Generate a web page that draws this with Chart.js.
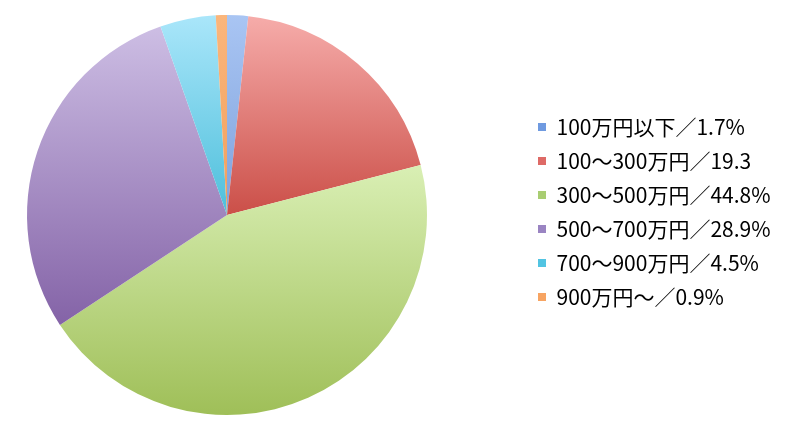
<!DOCTYPE html>
<html>
<head>
<meta charset="utf-8">
<script src="https://cdn.jsdelivr.net/npm/chart.js@4"></script>
<style>
  html, body { margin: 0; padding: 0; background: #fff; }
  #wrap { width: 800px; height: 431px; }
</style>
</head>
<body>
<div id="wrap"><canvas id="incomeChart" width="800" height="431"></canvas></div>
<script>
// 年収分布
const labels = ['100万円以下／1.7%', '100〜300万円／19.3', '300〜500万円／44.8%', '500〜700万円／28.9%', '700〜900万円／4.5%', '900万円〜／0.9%'];
const values = [1.7, 19.3, 44.8, 28.9, 4.5, 0.9];

// light (top) / dark (bottom) of each slice's gradient, plus legend swatch
const lightColors = ['#a9c5f3', '#f6acaa', '#d9efb4', '#cdbee4', '#aae6fa', '#fab67c'];
const darkColors = ['#7fa2dc', '#cb4f48', '#9fbf58', '#8463a7', '#4dbfdb', '#f29f5c'];
const swatchColors = ['#6f9ae0', '#de6a66', '#a9cd72', '#9a84c2', '#52c4e2', '#f7a462'];

function sliceGradient(context) {
    const i = context.dataIndex;
    const chart = context.chart;
    const area = chart.chartArea;
    if (!area || i === undefined) return swatchColors[i] || '#ccc';
    const total = values.reduce((a, b) => a + b, 0);
    let cum = 0;
    for (let k = 0; k < i; k++) cum += values[k];
    const a0 = -Math.PI / 2 + 2 * Math.PI * cum / total;
    const a1 = a0 + 2 * Math.PI * values[i] / total;
    const cx = (area.left + area.right) / 2;
    const cy = (area.top + area.bottom) / 2;
    const r = Math.min(area.width, area.height) / 2;
    const ys = [cy, cy + r * Math.sin(a0), cy + r * Math.sin(a1)];
    [-Math.PI / 2, Math.PI / 2, 1.5 * Math.PI].forEach(t => {
        if (t > a0 && t < a1) ys.push(cy + r * Math.sin(t));
    });
    const top = Math.min(...ys);
    const bottom = Math.max(...ys);
    const g = chart.ctx.createLinearGradient(0, top, 0, bottom + 0.01);
    g.addColorStop(0, lightColors[i]);
    g.addColorStop(1, darkColors[i]);
    return g;
}

// place the pie and the legend where the reference has them
const placePlugin = {
    id: 'place',
    afterLayout(chart) {
        const a = chart.chartArea;
        a.left = 27; a.right = 427; a.top = 15; a.bottom = 415;
        a.width = 400; a.height = 400;
        if (chart.legend) {
            const lg = chart.legend;
            const w = lg.width;
            lg.left = 525;
            lg.right = 525 + w;
            lg.top -= 3;
            lg.bottom -= 3;
        }
    }
};

document.addEventListener('DOMContentLoaded', function() {
    const ctx = document.getElementById('incomeChart').getContext('2d');
    new Chart(ctx, {
        type: 'pie',
        data: {
            labels: labels,
            datasets: [{
                data: values,
                backgroundColor: sliceGradient,
                borderWidth: 0,
                clip: false
            }]
        },
        options: {
            responsive: false,
            animation: false,
            layout: { padding: { top: 15, bottom: 16, left: 27, right: 10 } },
            plugins: {
                tooltip: { enabled: false },
                legend: {
                    position: 'right',
                    align: 'center',
                    labels: {
                        boxWidth: 8,
                        boxHeight: 8,
                        padding: 13,
                        color: '#1e1e1e',
                        font: { family: '"Noto Sans CJK JP", "Noto Sans", sans-serif', size: 21 },
                        generateLabels: () => labels.map((text, i) => ({
                            text: text,
                            fillStyle: swatchColors[i],
                            strokeStyle: swatchColors[i],
                            lineWidth: 0,
                            hidden: false,
                            index: i
                        }))
                    }
                }
            }
        },
        plugins: [placePlugin]
    });
});
</script>
</body>
</html>
